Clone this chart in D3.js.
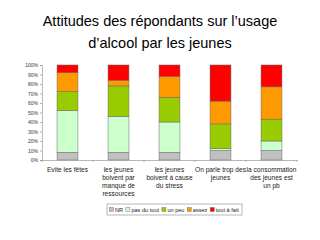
<!DOCTYPE html>
<html>
<head>
<meta charset="utf-8">
<script src="https://cdn.jsdelivr.net/npm/d3@7"></script>
<style>
  body { margin: 0; background: #fff; }
  svg { display: block; font-family: "Liberation Sans", Arial, sans-serif; }
</style>
</head>
<body>
<svg id="chart" width="320" height="240"></svg>
<script>
// Data (percent of respondents)
const categories = [
  ["Evite les fêtes"],
  ["les jeunes", "boivent par", "manque de", "ressources"],
  ["les jeunes", "boivent à cause", "du stress"],
  ["On parle trop des", "jeunes"],
  ["la consommation", "des jeunes est", "un pb"],
];
const seriesNames = ["NR", "pas du tout", "un peu", "assez", "tout à fait"];
const nr = [8, 8, 8, 10, 10];
const pasDuTout = [44, 38, 32, 2, 10];
const unPeu = [20, 32, 26, 26, 23];
const assez = [20, 6, 22, 24, 34];
const toutAFait = [8, 16, 12, 38, 23];
const yTicks = [0, 10, 20, 30, 40, 50, 60, 70, 80, 90, 100];

const colors = ["#c0c0c0", "#ccffcc", "#99cc00", "#ff9900", "#ff0000"];

const svg = d3.select("#chart");
const margin = { top: 65, right: 23, bottom: 80, left: 42 };
const width = 320 - margin.left - margin.right;
const height = 240 - margin.top - margin.bottom;

// Title
const title = svg.append("text")
  .attr("x", 160)
  .attr("text-anchor", "middle")
  .attr("font-size", "14.5px")
  .attr("fill", "#000");
title.append("tspan").attr("x", 160).attr("y", 26).text("Attitudes des répondants sur l\u2019usage");
title.append("tspan").attr("x", 160).attr("y", 48).text("d\u2019alcool par les jeunes");

const g = svg.append("g").attr("transform", `translate(${margin.left},${margin.top})`);

const rows = categories.map((c, i) => ({
  idx: i,
  NR: nr[i],
  "pas du tout": pasDuTout[i],
  "un peu": unPeu[i],
  assez: assez[i],
  "tout à fait": toutAFait[i],
}));

const stack = d3.stack().keys(seriesNames)(rows);

const x = d3.scaleBand()
  .domain(categories.map((c, i) => i))
  .range([0, width])
  .paddingInner(0.59)
  .paddingOuter(0.295);

const y = d3.scaleLinear().domain([0, 100]).range([height, 0]);

// Bars
g.append("g")
  .selectAll("g")
  .data(stack)
  .join("g")
  .attr("fill", (d, i) => colors[i])
  .selectAll("rect")
  .data((d) => d)
  .join("rect")
  .attr("x", (d) => x(d.data.idx))
  .attr("y", (d) => y(d[1]))
  .attr("width", x.bandwidth())
  .attr("height", (d) => y(d[0]) - y(d[1]))
  .attr("stroke", "#666")
  .attr("stroke-width", 0.5);

// Y axis
const yAxis = g.append("g")
  .call(d3.axisLeft(y).tickValues(yTicks).tickFormat((d) => d + "%").tickSize(2).tickPadding(2));
yAxis.select(".domain").attr("stroke", "#888").attr("stroke-width", 0.6);
yAxis.selectAll(".tick line").attr("stroke", "#888").attr("stroke-width", 0.6);
yAxis.selectAll("text").attr("font-size", "5px").attr("fill", "#333");

// X axis
const xAxis = g.append("g")
  .attr("transform", `translate(0,${height})`)
  .call(d3.axisBottom(x).tickSize(0).tickFormat(""));
xAxis.select(".domain").attr("stroke", "#888").attr("stroke-width", 0.6);

// Category tick marks between bands
g.append("g")
  .selectAll("line")
  .data(d3.range(categories.length + 1))
  .join("line")
  .attr("x1", (d) => (d * width) / categories.length)
  .attr("x2", (d) => (d * width) / categories.length)
  .attr("y1", height)
  .attr("y2", height + 2)
  .attr("stroke", "#888")
  .attr("stroke-width", 0.6);

// Category labels (multi-line)
g.append("g")
  .selectAll("text")
  .data(categories)
  .join("text")
  .attr("text-anchor", "middle")
  .attr("font-size", "6.6px")
  .attr("fill", "#222")
  .each(function (lines, i) {
    const t = d3.select(this);
    lines.forEach((line, j) => {
      t.append("tspan")
        .attr("x", x(i) + x.bandwidth() / 2)
        .attr("y", height + 12 + j * 8)
        .text(line);
    });
  });

// Legend, laid out item after item
const legend = svg.append("g").attr("transform", "translate(107,204)");
const legendBox = legend.append("rect")
  .attr("height", 11)
  .attr("fill", "#fff")
  .attr("stroke", "#888")
  .attr("stroke-width", 0.6);

let lx = 2.5;
seriesNames.forEach((name, i) => {
  legend.append("rect")
    .attr("x", lx)
    .attr("y", 3.5)
    .attr("width", 4)
    .attr("height", 4)
    .attr("fill", colors[i])
    .attr("stroke", "#666")
    .attr("stroke-width", 0.4);
  const t = legend.append("text")
    .attr("x", lx + 5.5)
    .attr("y", 7.6)
    .attr("font-size", "5.6px")
    .attr("fill", "#222")
    .text(name);
  lx += 5.5 + t.node().getComputedTextLength() + 2.8;
});
legendBox.attr("width", lx + 0.5);
</script>
</body>
</html>
